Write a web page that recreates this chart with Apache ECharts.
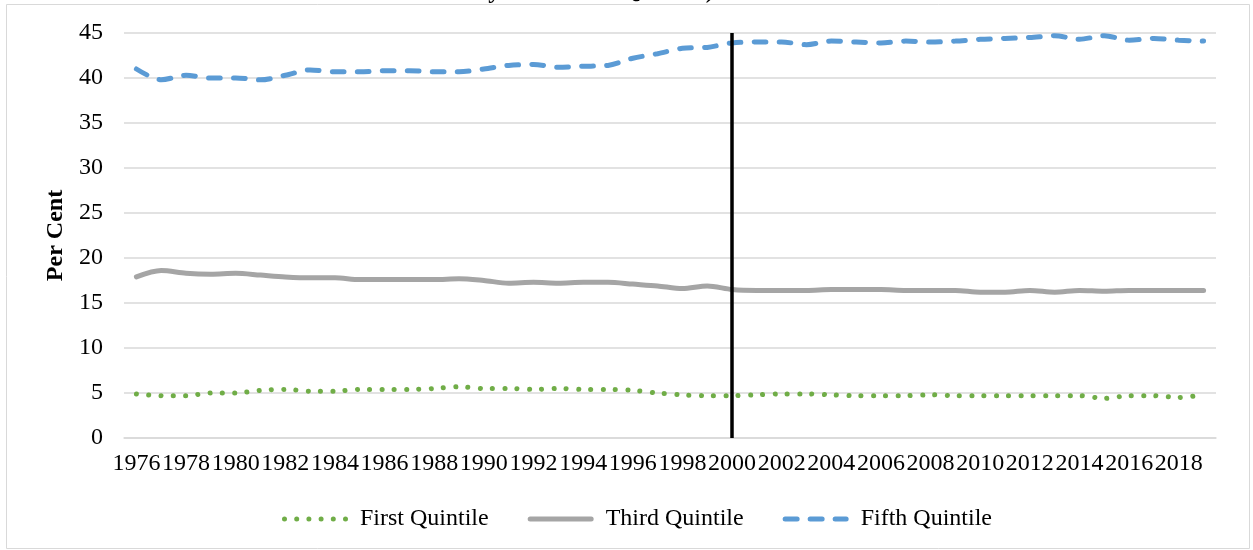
<!DOCTYPE html>
<html>
<head>
<meta charset="utf-8">
<script src="https://cdn.jsdelivr.net/npm/echarts@6/dist/echarts.min.js"></script>
<style>
  html, body { margin: 0; padding: 0; background: #ffffff; }
  #chart { width: 1253px; height: 550px; }
</style>
</head>
<body>
<div id="chart"></div>
<script>
const years = [];
for (let y = 1976; y <= 2019; y++) years.push(String(y));

const firstQuintile = [4.9,4.7,4.7,5.0,5.0,5.3,5.4,5.2,5.2,5.4,5.4,5.4,5.5,5.7,5.5,
  5.5,5.4,5.5,5.4,5.4,5.3,5.0,4.8,4.7,4.7,4.8,4.9,4.9,4.8,4.7,
  4.7,4.7,4.8,4.7,4.7,4.7,4.7,4.7,4.7,4.4,4.7,4.7,4.5,4.8];
const thirdQuintile = [17.9,18.6,18.3,18.2,18.3,18.1,17.9,17.8,17.8,17.6,17.6,17.6,17.6,17.7,17.5,
  17.2,17.3,17.2,17.3,17.3,17.1,16.9,16.6,16.9,16.5,16.4,16.4,16.4,16.5,16.5,
  16.5,16.4,16.4,16.4,16.2,16.2,16.4,16.2,16.4,16.3,16.4,16.4,16.4,16.4];
const fifthQuintile = [41.0,39.8,40.3,40.0,40.0,39.8,40.3,40.9,40.7,40.7,40.8,40.8,40.7,40.7,41.0,
  41.4,41.5,41.2,41.3,41.4,42.2,42.7,43.3,43.4,43.9,44.0,44.0,43.7,44.1,44.0,
  43.9,44.1,44.0,44.1,44.3,44.4,44.5,44.7,44.3,44.7,44.2,44.4,44.2,44.1];
const seriesNames = ['First Quintile', 'Third Quintile', 'Fifth Quintile'];
const markerYear = '2000';
const titleText = 'Share of Aggregate Income (Per Cent)\nReceived by Household Quintile)';
const yAxisName = 'Per Cent';

const FONT = '"Liberation Serif", "Times New Roman", serif';

// legend icon shapes (drawn in a 66 x 5 box)
function dotsIcon() {
  let p = '';
  const r = 2.5;
  for (let k = 0; k < 6; k++) {
    const cx = r + k * 12.2;
    p += 'M' + (cx - r) + ',' + r + ' a' + r + ',' + r + ' 0 1,0 ' + (2 * r) + ',0 a' + r + ',' + r + ' 0 1,0 ' + (-2 * r) + ',0 Z ';
  }
  return 'path://' + p;
}
function pill(x0, x1) {
  const r = 2.5;
  return 'M' + (x0 + r) + ',0 H' + (x1 - r) + ' A' + r + ',' + r + ' 0 0,1 ' + (x1 - r) + ',' + (2 * r) +
    ' H' + (x0 + r) + ' A' + r + ',' + r + ' 0 0,1 ' + (x0 + r) + ',0 Z ';
}
const solidIcon = 'path://' + pill(0, 66);
const dashIcon = 'path://' + pill(0, 17) + pill(25, 42) + pill(50, 66);

const chart = echarts.init(document.getElementById('chart'), null, { renderer: 'canvas' });
chart.setOption({
  backgroundColor: '#ffffff',
  animation: false,
  title: {
    text: titleText,
    left: 377,
    top: -50,
    padding: 0,
    textStyle: { fontFamily: FONT, fontSize: 24, fontWeight: 'bold', color: '#000', lineHeight: 28 }
  },
  graphic: [{
    type: 'rect',
    shape: { x: 6.5, y: 4.5, width: 1243, height: 544 },
    style: { fill: 'none', stroke: '#d9d9d9', lineWidth: 1 },
    silent: true
  }],
  grid: { left: 124, right: 37, top: 33, bottom: 112, containLabel: false },
  legend: {
    bottom: 14,
    left: 277,
    itemWidth: 66,
    itemHeight: 5,
    itemGap: 39,
    textStyle: { fontFamily: FONT, fontSize: 24, color: '#000', padding: [0, 0, 0, 7] },
    data: [
      { name: seriesNames[0], icon: dotsIcon() },
      { name: seriesNames[1], icon: solidIcon },
      { name: seriesNames[2], icon: dashIcon }
    ]
  },
  xAxis: {
    type: 'category',
    data: years,
    boundaryGap: true,
    axisLine: { show: true, lineStyle: { color: '#d9d9d9', width: 1.5 } },
    axisTick: { show: false },
    axisLabel: { interval: 1, hideOverlap: false, margin: 14, fontFamily: FONT, fontSize: 24, color: '#000' },
    splitLine: { show: false }
  },
  yAxis: {
    type: 'value',
    min: 0,
    max: 45,
    interval: 5,
    name: yAxisName,
    nameLocation: 'middle',
    nameGap: 56,
    nameTextStyle: { fontFamily: FONT, fontSize: 24, fontWeight: 'bold', color: '#000' },
    axisLine: { show: false },
    axisTick: { show: false },
    axisLabel: { margin: 21, fontFamily: FONT, fontSize: 24, color: '#000' },
    splitLine: { show: true, lineStyle: { color: '#d9d9d9', width: 1.5 } }
  },
  series: [
    {
      name: seriesNames[0],
      type: 'line',
      data: firstQuintile,
      smooth: 0.3,
      symbol: 'none',
      color: '#70AD47',
      lineStyle: { color: '#70AD47', width: 5, type: [0.1, 12.2], cap: 'round' },
      z: 3
    },
    {
      name: seriesNames[1],
      type: 'line',
      data: thirdQuintile,
      smooth: 0.3,
      symbol: 'none',
      color: '#A5A5A5',
      lineStyle: { color: '#A5A5A5', width: 5, type: 'solid', cap: 'round' },
      z: 3
    },
    {
      name: seriesNames[2],
      type: 'line',
      data: fifthQuintile,
      smooth: 0.3,
      symbol: 'none',
      color: '#5B9BD5',
      lineStyle: { color: '#5B9BD5', width: 5, type: [12, 13], cap: 'round' },
      z: 3,
      markLine: {
        silent: true,
        symbol: ['none', 'none'],
        label: { show: false },
        lineStyle: { color: '#000', width: 3.5, type: 'solid' },
        data: [{ xAxis: markerYear }],
        z: 5
      }
    }
  ]
});
</script>
</body>
</html>
